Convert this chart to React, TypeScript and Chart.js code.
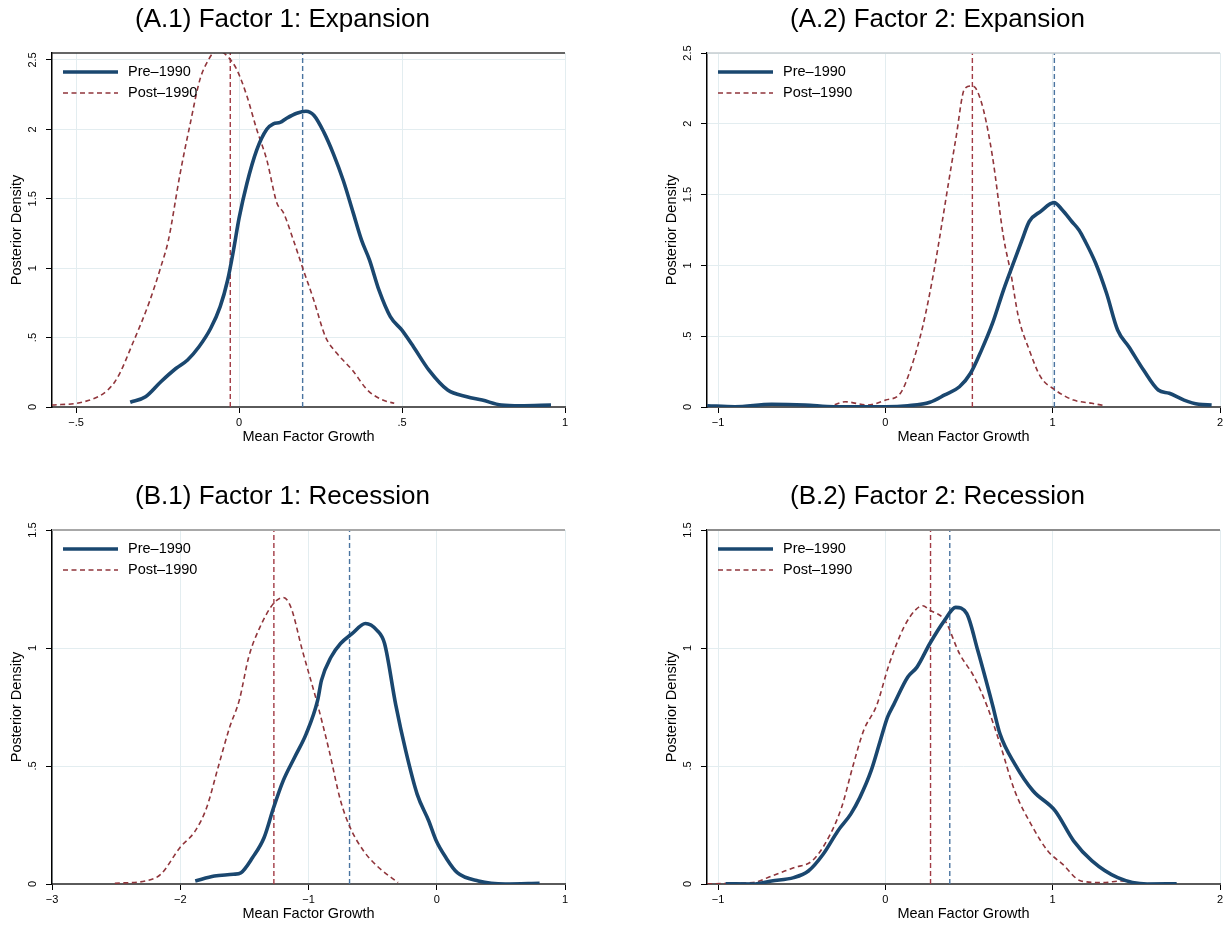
import React, { useEffect, useRef } from 'react';
import { Chart, registerables } from 'chart.js';

Chart.register(...registerables);

const FONT = "'Liberation Sans', Arial, Helvetica, sans-serif";

// ---------- Data ----------
const seriesLabels = ['Pre\u20131990', 'Post\u20131990'];
const titles = [
  '(A.1) Factor 1: Expansion',
  '(A.2) Factor 2: Expansion',
  '(B.1) Factor 1: Recession',
  '(B.2) Factor 2: Recession',
];
const xAxisTitle = 'Mean Factor Growth';
const yAxisTitle = 'Posterior Density';

// A.1
const a1PreX = [-0.334, -0.287, -0.240, -0.193, -0.158, -0.123, -0.087, -0.058, -0.035, -0.017, 0.0, 0.024, 0.054, 0.085, 0.105, 0.126, 0.146, 0.177, 0.205, 0.23, 0.26, 0.29, 0.32, 0.35, 0.376, 0.40, 0.429, 0.464, 0.499, 0.535, 0.582, 0.640, 0.699, 0.746, 0.805, 0.863, 0.957];
const a1PreY = [0.034, 0.074, 0.182, 0.279, 0.339, 0.434, 0.567, 0.723, 0.915, 1.131, 1.36, 1.61, 1.85, 2.0, 2.04, 2.05, 2.08, 2.116, 2.13, 2.10, 1.98, 1.82, 1.63, 1.40, 1.20, 1.06, 0.843, 0.651, 0.555, 0.434, 0.267, 0.122, 0.074, 0.050, 0.014, 0.009, 0.014];
const a1PostX = [-0.575, -0.475, -0.381, -0.322, -0.275, -0.240, -0.217, -0.181, -0.150, -0.120, -0.094, -0.079, -0.058, -0.033, -0.007, 0.024, 0.054, 0.085, 0.116, 0.136, 0.167, 0.194, 0.229, 0.265, 0.30, 0.347, 0.394, 0.441, 0.476];
const a1PostY = [0.014, 0.038, 0.182, 0.483, 0.759, 1.01, 1.20, 1.68, 2.04, 2.36, 2.50, 2.55, 2.56, 2.52, 2.43, 2.24, 2.0, 1.78, 1.47, 1.40, 1.20, 1.01, 0.771, 0.506, 0.387, 0.267, 0.122, 0.05, 0.027];
const a1Means = [0.195, -0.027];
const a1XRange = [-0.574, 1];
const a1YRange = [0, 2.55];
const a1XTicks = [-0.5, 0, 0.5, 1];
const a1XLabels = ['\u2212.5', '0', '.5', '1'];
const a1YTicks = [0, 0.5, 1, 1.5, 2, 2.5];
const a1YLabels = ['0', '.5', '1', '1.5', '2', '2.5'];

// A.2
const a2PreX = [-1.065, -0.90, -0.68, -0.48, -0.306, 0.0, 0.134, 0.266, 0.355, 0.443, 0.509, 0.574, 0.64, 0.706, 0.773, 0.817, 0.86, 0.927, 1.008, 1.059, 1.114, 1.157, 1.19, 1.257, 1.322, 1.388, 1.455, 1.543, 1.631, 1.697, 1.785, 1.873, 1.95];
const a2PreY = [0.009, 0.002, 0.019, 0.014, 0.002, 0.002, 0.009, 0.033, 0.085, 0.143, 0.238, 0.40, 0.59, 0.826, 1.04, 1.18, 1.31, 1.38, 1.443, 1.39, 1.31, 1.25, 1.18, 1.015, 0.803, 0.544, 0.426, 0.261, 0.12, 0.097, 0.049, 0.019, 0.014];
const a2PostX = [-0.504, -0.35, -0.24, -0.107, 0.002, 0.09, 0.156, 0.223, 0.288, 0.322, 0.377, 0.42, 0.475, 0.52, 0.541, 0.586, 0.64, 0.706, 0.75, 0.795, 0.86, 0.927, 1.015, 1.125, 1.235, 1.312];
const a2PostY = [0.009, 0.002, 0.037, 0.014, 0.049, 0.097, 0.285, 0.567, 0.944, 1.18, 1.58, 1.886, 2.25, 2.267, 2.25, 2.10, 1.77, 1.20, 0.944, 0.638, 0.403, 0.214, 0.12, 0.049, 0.026, 0.009];
const a2Means = [1.01, 0.52];
const a2XRange = [-1.066, 2];
const a2YRange = [0, 2.5];
const a2XTicks = [-1, 0, 1, 2];
const a2XLabels = ['\u22121', '0', '1', '2'];
const a2YTicks = [0, 0.5, 1, 1.5, 2, 2.5];
const a2YLabels = ['0', '.5', '1', '1.5', '2', '2.5'];

// B.1
const b1PreX = [-1.883, -1.734, -1.586, -1.526, -1.436, -1.346, -1.272, -1.197, -1.108, -1.018, -0.929, -0.899, -0.824, -0.75, -0.66, -0.556, -0.466, -0.407, -0.32, -0.242, -0.153, -0.063, -0.004, 0.071, 0.16, 0.325, 0.534, 0.802];
const b1PreY = [0.013, 0.034, 0.041, 0.048, 0.112, 0.197, 0.324, 0.438, 0.537, 0.636, 0.778, 0.863, 0.962, 1.019, 1.061, 1.104, 1.075, 1.019, 0.76, 0.565, 0.381, 0.268, 0.183, 0.112, 0.048, 0.013, 0.0, 0.003];
const b1PostX = [-2.51, -2.272, -2.152, -2.003, -1.883, -1.794, -1.705, -1.615, -1.54, -1.466, -1.377, -1.272, -1.197, -1.138, -1.048, -0.929, -0.839, -0.75, -0.675, -0.57, -0.451, -0.302];
const b1PostY = [0.003, 0.013, 0.041, 0.154, 0.225, 0.324, 0.494, 0.664, 0.778, 0.962, 1.09, 1.189, 1.214, 1.174, 0.99, 0.76, 0.565, 0.353, 0.239, 0.14, 0.069, 0.006];
const b1Means = [-0.68, -1.27];
const b1XRange = [-3, 1];
const b1YRange = [0, 1.5];
const b1XTicks = [-3, -2, -1, 0, 1];
const b1XLabels = ['\u22123', '\u22122', '\u22121', '0', '1'];
const b1YTicks = [0, 0.5, 1, 1.5];
const b1YLabels = ['0', '.5', '1', '1.5'];

// B.2
const b2PreX = [-0.955, -0.79, -0.68, -0.548, -0.46, -0.372, -0.284, -0.207, -0.152, -0.085, -0.03, 0.013, 0.05, 0.134, 0.189, 0.266, 0.355, 0.42, 0.486, 0.552, 0.64, 0.685, 0.773, 0.882, 1.015, 1.125, 1.235, 1.389, 1.565, 1.741];
const b2PreY = [0.001, 0.0, 0.013, 0.027, 0.055, 0.126, 0.225, 0.296, 0.367, 0.48, 0.608, 0.707, 0.76, 0.877, 0.919, 1.019, 1.118, 1.172, 1.146, 0.99, 0.76, 0.636, 0.509, 0.395, 0.31, 0.183, 0.098, 0.027, 0.0, 0.001];
const b2PostX = [-1.065, -0.79, -0.68, -0.548, -0.438, -0.35, -0.262, -0.196, -0.13, -0.053, 0.024, 0.112, 0.178, 0.223, 0.266, 0.355, 0.443, 0.531, 0.61, 0.685, 0.773, 0.882, 0.971, 1.059, 1.169, 1.301, 1.411, 1.521];
const b2PostY = [0.001, 0.006, 0.034, 0.069, 0.098, 0.183, 0.324, 0.494, 0.65, 0.755, 0.934, 1.09, 1.16, 1.179, 1.16, 1.118, 0.976, 0.877, 0.75, 0.594, 0.395, 0.239, 0.14, 0.084, 0.013, 0.006, 0.013, 0.001];
const b2Means = [0.385, 0.27];
const b2XRange = [-1.066, 2];
const b2YRange = [0, 1.5];
const b2XTicks = [-1, 0, 1, 2];
const b2XLabels = ['\u22121', '0', '1', '2'];
const b2YTicks = [0, 0.5, 1, 1.5];
const b2YLabels = ['0', '.5', '1', '1.5'];

// ---------- Styles ----------
const NAVY = '#1a476f';
const MAROON = '#90353b';
const NAVY_LINE = '#4a74a0';
const MAROON_LINE = '#a23b45';
const GRID = '#e3edf0';
const CW = 573;
const CH = 449;

type PanelDef = {
  title: string;
  preX: number[]; preY: number[]; postX: number[]; postY: number[];
  means: number[]; xRange: number[]; yRange: number[];
  xTicks: number[]; xLabels: string[]; yTicks: number[]; yLabels: string[];
  left: number; top: number; topColor: string; topWidth: number;
};

const panels: PanelDef[] = [
  { title: titles[0], preX: a1PreX, preY: a1PreY, postX: a1PostX, postY: a1PostY, means: a1Means, xRange: a1XRange, yRange: a1YRange, xTicks: a1XTicks, xLabels: a1XLabels, yTicks: a1YTicks, yLabels: a1YLabels, left: 0, top: 0, topColor: '#333333', topWidth: 1.5 },
  { title: titles[1], preX: a2PreX, preY: a2PreY, postX: a2PostX, postY: a2PostY, means: a2Means, xRange: a2XRange, yRange: a2YRange, xTicks: a2XTicks, xLabels: a2XLabels, yTicks: a2YTicks, yLabels: a2YLabels, left: 655, top: 0, topColor: '#c6ccd0', topWidth: 1.5 },
  { title: titles[2], preX: b1PreX, preY: b1PreY, postX: b1PostX, postY: b1PostY, means: b1Means, xRange: b1XRange, yRange: b1YRange, xTicks: b1XTicks, xLabels: b1XLabels, yTicks: b1YTicks, yLabels: b1YLabels, left: 0, top: 477, topColor: '#a8a8a8', topWidth: 2 },
  { title: titles[3], preX: b2PreX, preY: b2PreY, postX: b2PostX, postY: b2PostY, means: b2Means, xRange: b2XRange, yRange: b2YRange, xTicks: b2XTicks, xLabels: b2XLabels, yTicks: b2YTicks, yLabels: b2YLabels, left: 655, top: 477, topColor: '#8c8c8c', topWidth: 2 },
];

const framePlugin = {
  id: 'frameLegend',
  afterDatasetsDraw(chart: any) {
    const { ctx, chartArea } = chart;
    ctx.save();
    const ds = chart.data.datasets.slice(0, 2);
    ds.forEach((d: any, i: number) => {
      const y = chartArea.top + 19 + i * 21;
      ctx.beginPath();
      ctx.setLineDash(d.borderDash || []);
      ctx.lineWidth = d.borderWidth;
      ctx.strokeStyle = d.borderColor;
      ctx.moveTo(chartArea.left + 11, y);
      ctx.lineTo(chartArea.left + 66, y);
      ctx.stroke();
      ctx.setLineDash([]);
      ctx.fillStyle = '#000';
      ctx.font = `14.5px ${FONT}`;
      ctx.textBaseline = 'middle';
      ctx.textAlign = 'left';
      ctx.fillText(d.label, chartArea.left + 76, y);
    });
    ctx.restore();
  },
  afterDraw(chart: any, _args: any, opts: any) {
    const { ctx, chartArea } = chart;
    ctx.save();
    ctx.beginPath();
    ctx.strokeStyle = opts.topColor;
    ctx.lineWidth = opts.topWidth;
    ctx.moveTo(chartArea.left, chartArea.top);
    ctx.lineTo(chartArea.right, chartArea.top);
    ctx.stroke();
    ctx.restore();
  },
};

function toPoints(xs: number[], ys: number[]) {
  return xs.map((x, i) => ({ x, y: ys[i] }));
}

function PanelChart({ p }: { p: PanelDef }) {
  const ref = useRef<HTMLCanvasElement | null>(null);
  useEffect(() => {
    if (!ref.current) return;
    const chart = new Chart(ref.current, {
      type: 'line',
      data: {
        datasets: [
          {
            label: seriesLabels[0],
            data: toPoints(p.preX, p.preY),
            borderColor: NAVY,
            borderWidth: 3.6,
            pointRadius: 0,
            cubicInterpolationMode: 'monotone',
            fill: false,
          },
          {
            label: seriesLabels[1],
            data: toPoints(p.postX, p.postY),
            borderColor: MAROON,
            borderWidth: 1.6,
            borderDash: [5, 3.5],
            pointRadius: 0,
            cubicInterpolationMode: 'monotone',
            fill: false,
          },
          {
            label: 'mean pre',
            data: [{ x: p.means[0], y: p.yRange[0] }, { x: p.means[0], y: p.yRange[1] }],
            borderColor: NAVY_LINE,
            borderWidth: 1.4,
            borderDash: [5, 3],
            pointRadius: 0,
            tension: 0,
          },
          {
            label: 'mean post',
            data: [{ x: p.means[1], y: p.yRange[0] }, { x: p.means[1], y: p.yRange[1] }],
            borderColor: MAROON_LINE,
            borderWidth: 1.4,
            borderDash: [5, 3],
            pointRadius: 0,
            tension: 0,
          },
        ] as any,
      },
      options: {
        animation: false,
        responsive: false,
        devicePixelRatio: 1,
        layout: { padding: { left: 0, right: 8, top: 0, bottom: 0 } },
        plugins: {
          legend: { display: false },
          tooltip: { enabled: false },
          title: {
            display: true,
            text: p.title,
            color: '#000',
            font: { family: FONT, size: 26, weight: 'normal' },
            padding: { top: 4, bottom: 17.8 },
          },
          frameLegend: { topColor: p.topColor, topWidth: p.topWidth },
        } as any,
        scales: {
          x: {
            type: 'linear',
            min: p.xRange[0],
            max: p.xRange[1],
            afterBuildTicks: (scale: any) => {
              scale.ticks = p.xTicks.map((v) => ({ value: v }));
            },
            afterFit: (scale: any) => {
              scale.height = 42;
            },
            ticks: {
              callback: (_v: any, i: number) => p.xLabels[i],
              color: '#000',
              font: { family: FONT, size: 11 },
              padding: 3.4,
              maxRotation: 0,
              minRotation: 0,
              autoSkip: false,
            },
            grid: { color: GRID, lineWidth: 1, tickColor: '#000', tickLength: 6, tickWidth: 1 },
            border: { display: true, color: '#5a5a5a', width: 2 },
            title: {
              display: true,
              text: xAxisTitle,
              color: '#000',
              font: { family: FONT, size: 14.5 },
              padding: { top: 0, bottom: 3.3 },
            },
          },
          y: {
            type: 'linear',
            min: p.yRange[0],
            max: p.yRange[1],
            afterBuildTicks: (scale: any) => {
              scale.ticks = p.yTicks.map((v) => ({ value: v }));
            },
            afterFit: (scale: any) => {
              scale.width = 52;
            },
            ticks: {
              callback: (_v: any, i: number) => p.yLabels[i],
              color: '#000',
              font: { family: FONT, size: 11 },
              padding: 5,
              minRotation: 90,
              maxRotation: 90,
              crossAlign: 'center',
              autoSkip: false,
            },
            grid: { color: GRID, lineWidth: 1, tickColor: '#000', tickLength: 6, tickWidth: 1 },
            border: { display: true, color: '#000', width: 1.5 },
            title: {
              display: true,
              text: yAxisTitle,
              color: '#000',
              font: { family: FONT, size: 14.5 },
              padding: { top: 8.3, bottom: 0 },
            },
          },
        },
      } as any,
      plugins: [framePlugin as any],
    });
    return () => chart.destroy();
  }, []);
  return (
    <canvas
      ref={ref}
      width={CW}
      height={CH}
      style={{ position: 'absolute', left: p.left, top: p.top, width: CW, height: CH }}
    />
  );
}

export default function App() {
  return (
    <div style={{ position: 'absolute', left: 0, top: 0, width: 1228, height: 926, background: '#fff' }}>
      {panels.map((p, i) => (
        <PanelChart key={i} p={p} />
      ))}
    </div>
  );
}
